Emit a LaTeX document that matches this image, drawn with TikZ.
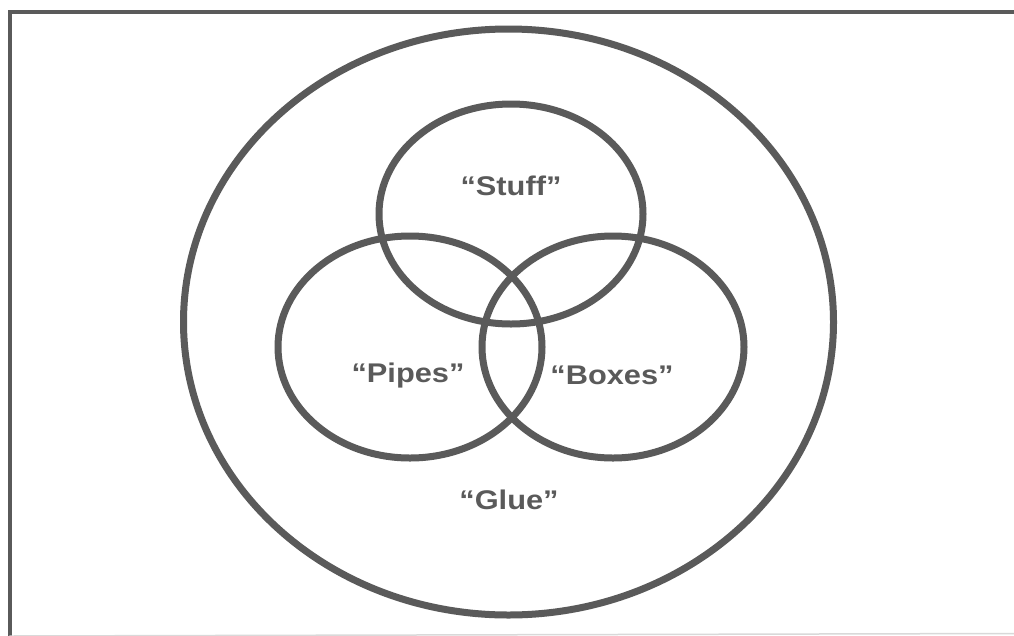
\documentclass[tikz,border=0pt]{standalone}
\usepackage{fontspec}
\setmainfont{Liberation Sans}
\usetikzlibrary{shapes.geometric}
\definecolor{ink}{HTML}{5A5A5A}
\begin{document}
\begin{tikzpicture}[x=1pt,y=-1pt,
  ring/.style={ellipse,draw=ink,line width=7pt,inner sep=0pt,fill=none},
  lbl/.style={text=ink,font=\fontsize{27}{30}\selectfont\bfseries,inner sep=0pt,xscale=1.14},
  frame/.style={draw=ink,line width=4pt}]
\useasboundingbox (0,0) rectangle (1014,635);
\fill[white] (0,0) rectangle (1014,635);
\coordinate (fbl) at (9.5,636);
\coordinate (ftl) at (9.5,11.5);
\coordinate (ftr) at (1016,11.5);
\coordinate (fbr) at (1016,633.5);
\draw[frame,line cap=butt] (fbl) -- (ftl) -- (ftr);
\draw[draw=black!15,line width=1.5pt] (fbl) -- (fbr);
\node[ring,minimum width=650pt,minimum height=586pt] (glue) at (508.5,322) {};
\node[ring,minimum width=264pt,minimum height=220pt] (stuff) at (511,214) {};
\node[ring,minimum width=264pt,minimum height=222pt] (pipes) at (410,347) {};
\node[ring,minimum width=262pt,minimum height=222pt] (boxes) at (613,347) {};
\node[lbl] (tstuff) at (511,186) {``Stuff''};
\node[lbl] (tpipes) at (408,376) {``Pipes''};
\node[lbl] (tboxes) at (612,375) {``Boxes''};
\node[lbl] (tglue) at (509,500) {``Glue''};
\end{tikzpicture}
\end{document}
